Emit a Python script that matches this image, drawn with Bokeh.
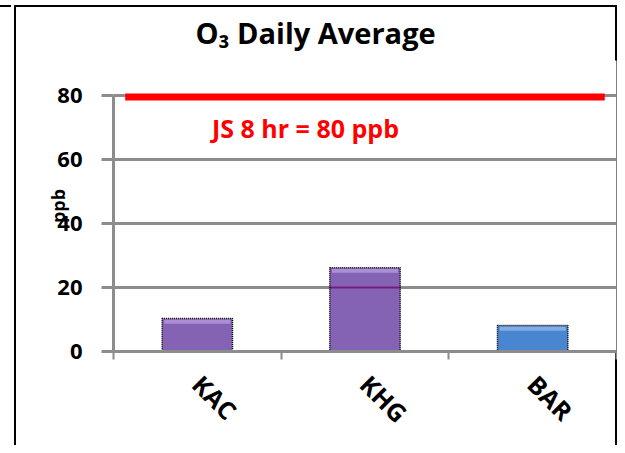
import math
from bokeh.plotting import figure
from bokeh.models import Range1d, FixedTicker, Label
from bokeh.embed import file_html
from bokeh.resources import INLINE

# ---- data ----
sites = ["KAC", "KHG", "BAR"]
o3_avg = [10.3, 26.2, 8.1]
bar_colors = ["#8462B4", "#8462B4", "#4A85CF"]
highlight_colors = ["#B49BDC", "#B49BDC", "#8DB6EA"]
y_ticks = [0, 20, 40, 60, 80]
standard_value = 79.5
standard_label = "JS 8 hr = 80 ppb"
title_text = "O₃ Daily Average"
y_label = "ppb"

FONT = "Open Sans"
GRID = "#8c8c8c"

xs = [i + 0.5 for i in range(len(sites))]
bar_w = 0.42

p = figure(width=617, height=445, output_backend="svg", toolbar_location=None,
           x_range=Range1d(0, len(sites)), y_range=Range1d(0, 90.94),
           min_border=0, min_border_left=113, min_border_right=1,
           min_border_top=60, min_border_bottom=94)
# chart-area frame lines painted behind a transparent canvas
p.styles = {
    "background-image": ", ".join(["linear-gradient(#000,#000)"] * 4),
    "background-size": "2px 100%, 100% 2px, 2px 100%, 11px 2px",
    "background-position": "14px 5px, 14px 5px, 615px 5px, 0px 5px",
    "background-repeat": "no-repeat",
}
p.border_fill_color = None
p.outline_line_color = None
p.background_fill_color = "white"

# title
p.title.text = title_text
p.title.align = "left"
p.title.offset = 82
p.title.standoff = 18
p.title.text_font = FONT
p.title.text_font_size = "29px"
p.title.text_font_style = "bold"
p.title.text_color = "black"

# bars
p.vbar(x=xs, top=o3_avg, width=bar_w, fill_color=bar_colors, line_color=None)
p.vbar(x=xs, top=[v - 0.3 for v in o3_avg], bottom=[v - 1.6 for v in o3_avg],
       width=bar_w * 0.94, fill_color=highlight_colors, line_color=None, fill_alpha=0.8)
# gridlines seen through bars
gx0, gx1, gy = [], [], []
for x, v in zip(xs, o3_avg):
    for t in y_ticks[1:]:
        if v > t:
            gx0.append(x - bar_w / 2); gx1.append(x + bar_w / 2); gy.append(t)
if gy:
    p.segment(x0=gx0, x1=gx1, y0=gy, y1=gy, line_color="#7a1a80", line_width=2)
p.vbar(x=xs, top=o3_avg, width=bar_w, fill_color=None, line_color="black",
       line_dash="1 1", line_width=1.5)

# standard line
p.segment(x0=[0.07], x1=[len(sites) - 0.07], y0=[standard_value], y1=[standard_value],
          line_color="red", line_width=7)
p.add_layout(Label(x=1.145, y=69.8, text=standard_label, text_color="red",
                   text_font=FONT, text_font_size="25px", text_font_style="bold",
                   text_align="center", text_baseline="middle"))

# x axis
xa = p.xaxis[0]
xa.ticker = FixedTicker(ticks=xs, minor_ticks=list(range(len(sites) + 1)))
xa.major_label_overrides = {x: s for x, s in zip(xs, sites)}
xa.major_tick_in = 0
xa.major_tick_out = 0
xa.minor_tick_in = 0
xa.minor_tick_out = 8
xa.minor_tick_line_color = GRID
xa.minor_tick_line_width = 2
xa.axis_line_color = GRID
xa.axis_line_width = 3
xa.major_label_orientation = -math.pi / 4
xa.major_label_standoff = 20
xa.major_label_text_font = FONT
xa.major_label_text_font_size = "25px"
xa.major_label_text_font_style = "bold"
xa.major_label_text_color = "black"

# y axis
ya = p.yaxis[0]
ya.ticker = FixedTicker(ticks=y_ticks)
ya.bounds = (0, 80)
ya.major_tick_in = 0
ya.major_tick_out = 12
ya.major_tick_line_color = GRID
ya.major_tick_line_width = 3
ya.minor_tick_line_color = None
ya.axis_line_color = GRID
ya.axis_line_width = 3
ya.major_label_standoff = 19
ya.major_label_text_font = FONT
ya.major_label_text_font_size = "22px"
ya.major_label_text_font_style = "bold"
ya.major_label_text_color = "black"
ya.axis_label = y_label
ya.axis_label_standoff = -16
ya.axis_label_text_font = FONT
ya.axis_label_text_font_size = "18px"
ya.axis_label_text_font_style = "bold"
ya.axis_label_text_color = "black"

p.xgrid.visible = False
p.ygrid.ticker = FixedTicker(ticks=y_ticks)
p.ygrid.grid_line_color = GRID
p.ygrid.grid_line_width = 3

open("out.html", "w").write(file_html(p, INLINE))
